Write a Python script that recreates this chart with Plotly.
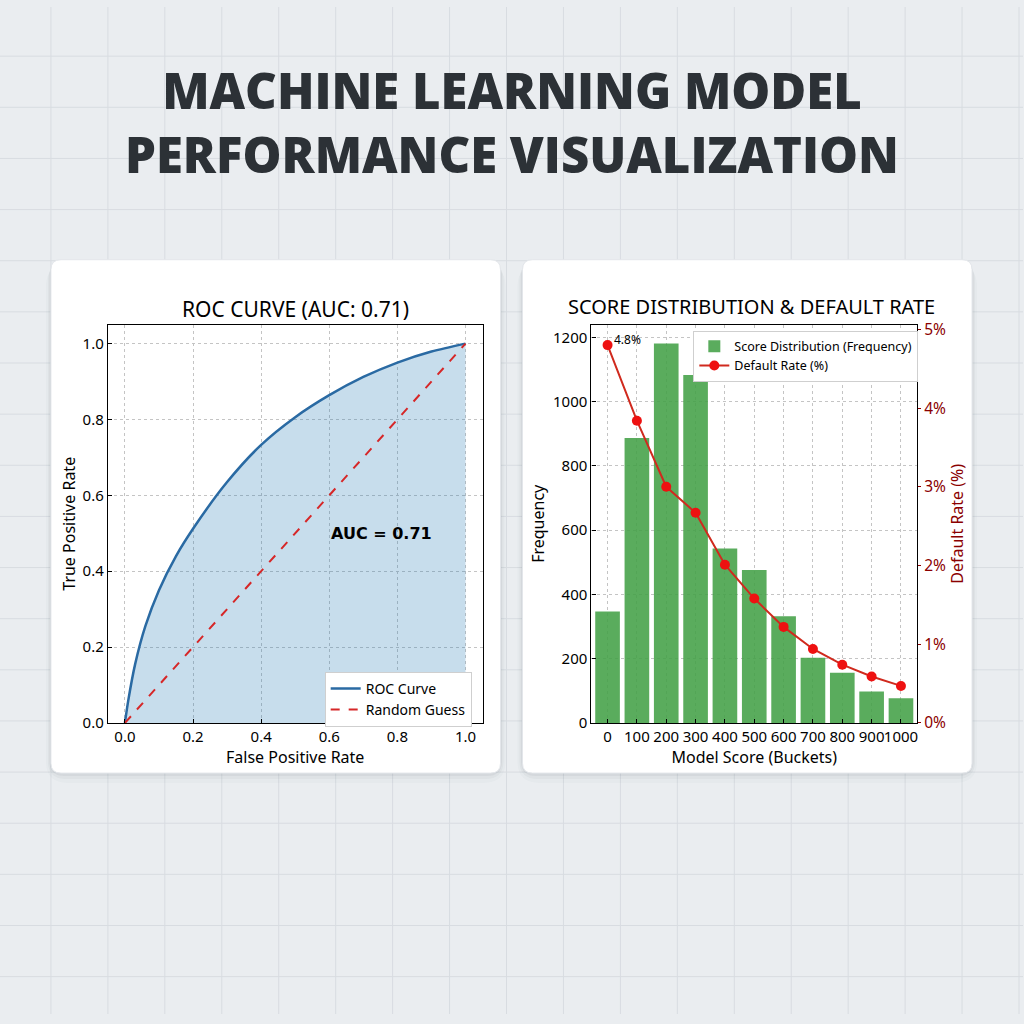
import plotly.graph_objects as go

# ROC curve points
fpr = [0, 0.01, 0.03, 0.06, 0.1, 0.15, 0.2, 0.3, 0.4, 0.5, 0.6, 0.7, 0.8, 0.9, 1.0]
tpr = [0, 0.06, 0.155, 0.255, 0.35, 0.44, 0.512, 0.635, 0.733, 0.806, 0.864, 0.912, 0.95, 0.979, 1.0]
diag = [0, 1]
auc_value = 0.71

# score buckets
buckets = ["0", "100", "200", "300", "400", "500", "600", "700", "800", "900", "1000"]
frequency = [347, 887, 1181, 1083, 543, 476, 332, 203, 156, 98, 77]
default_rate = [4.8, 3.84, 3.0, 2.67, 2.01, 1.58, 1.22, 0.94, 0.74, 0.59, 0.47]

W = H = 1024
FONT = "Noto Sans"


def px_x(v):
    return v / W


def px_y(v):
    return 1 - v / H


def rounded_rect(x0, y0, x1, y1, r):
    # pixel coords (top-left origin) -> paper path
    X0, X1 = px_x(x0), px_x(x1)
    Y0, Y1 = px_y(y0), px_y(y1)
    rx, ry = r / W, r / H
    return (f"M {X0+rx},{Y0} L {X1-rx},{Y0} Q {X1},{Y0} {X1},{Y0-ry} "
            f"L {X1},{Y1+ry} Q {X1},{Y1} {X1-rx},{Y1} L {X0+rx},{Y1} "
            f"Q {X0},{Y1} {X0},{Y1+ry} L {X0},{Y0-ry} Q {X0},{Y0} {X0+rx},{Y0} Z")


fig = go.Figure()

# --- ROC panel ---
fig.add_trace(go.Scatter(x=fpr, y=tpr, mode="lines", line=dict(width=0, shape="spline", smoothing=0.8),
                         fill="tozeroy", fillcolor="rgba(31,119,180,0.25)",
                         showlegend=False, hoverinfo="skip", xaxis="x", yaxis="y"))
fig.add_trace(go.Scatter(x=fpr, y=tpr, mode="lines", name="ROC Curve",
                         line=dict(color="#2a6aa3", width=2.5, shape="spline", smoothing=0.8),
                         xaxis="x", yaxis="y", legend="legend"))
fig.add_trace(go.Scatter(x=diag, y=diag, mode="lines", name="Random Guess",
                         line=dict(color="#d62728", width=2, dash="dash"),
                         xaxis="x", yaxis="y", legend="legend"))

# --- score distribution panel ---
fig.add_trace(go.Bar(x=buckets, y=frequency, name="Score Distribution (Frequency)",
                     marker=dict(color="rgba(67,160,71,0.88)", line=dict(width=0)),
                     xaxis="x2", yaxis="y2", legend="legend2"))
fig.add_trace(go.Scatter(x=buckets, y=default_rate, mode="lines+markers", name="Default Rate (%)",
                         line=dict(color="#d02a1e", width=2),
                         marker=dict(color="#ee1111", size=10),
                         xaxis="x2", yaxis="y3", legend="legend2"))

axis_common = dict(showline=True, linecolor="black", linewidth=1.2, mirror=True,
                   ticks="inside", ticklen=4, tickcolor="black",
                   showgrid=True, gridcolor="#c4c4c4", griddash="dot", gridwidth=1,
                   zeroline=False, tickfont=dict(family=FONT, size=15, color="black"),
                   title_font=dict(family=FONT, size=16, color="black"))

# background grid + cards
shapes = []
x = 51
while x < W:
    shapes.append(dict(type="line", xref="paper", yref="paper", x0=px_x(x), x1=px_x(x),
                       y0=0, y1=1, line=dict(color="#d8dce1", width=1), layer="below"))
    x += 57
y = 50
while y < H:
    shapes.append(dict(type="line", xref="paper", yref="paper", x0=0, x1=1,
                       y0=px_y(y), y1=px_y(y), line=dict(color="#d8dce1", width=1), layer="below"))
    y += 52

for cx0, cx1 in [(51, 501), (523, 973)]:
    for off, a in [(10, 0.025), (6, 0.04), (3, 0.06)]:
        shapes.append(dict(type="path", xref="paper", yref="paper",
                           path=rounded_rect(cx0 - off / 2, 257 + off / 2, cx1 + off / 2, 779 + off, 12 + off),
                           fillcolor=f"rgba(60,70,80,{a})", line=dict(width=0), layer="below"))
    shapes.append(dict(type="path", xref="paper", yref="paper",
                       path=rounded_rect(cx0, 257, cx1, 779, 10),
                       fillcolor="white", line=dict(color="#e3e6ea", width=1), layer="below"))

annotations = [
    dict(text="MACHINE LEARNING MODEL<br>PERFORMANCE VISUALIZATION", xref="paper", yref="paper",
         x=px_x(512), y=px_y(117), xanchor="center", yanchor="middle", showarrow=False,
         font=dict(family="Open Sans", size=49, color="#2c3136", weight=800)),
    dict(text="ROC CURVE (AUC: 0.71)", xref="paper", yref="paper", x=px_x(296), y=px_y(307),
         xanchor="center", yanchor="middle", showarrow=False,
         font=dict(family=FONT, size=21, color="black")),
    dict(text="SCORE DISTRIBUTION & DEFAULT RATE", xref="paper", yref="paper", x=px_x(752), y=px_y(305),
         xanchor="center", yanchor="middle", showarrow=False,
         font=dict(family=FONT, size=20, color="black")),
    dict(text=f"<b>AUC = {auc_value:.2f}</b>", xref="x", yref="y", x=0.6, y=0.5,
         xanchor="left", yanchor="middle", showarrow=False,
         font=dict(family="DejaVu Sans", size=16, color="black")),
    dict(text=f"{default_rate[0]:.1f}%", xref="x2", yref="y3", x=buckets[0], y=default_rate[0],
         xanchor="left", yanchor="middle", xshift=4, yshift=6, showarrow=False,
         font=dict(family=FONT, size=12, color="black")),
    dict(text=f"{default_rate[-1]:.1f}%", xref="x2", yref="y3", x=buckets[-1], y=default_rate[-1],
         xanchor="center", yanchor="middle", yshift=15, showarrow=False,
         font=dict(family=FONT, size=12, color="black")),
]

fig.update_layout(
    width=W, height=H,
    margin=dict(l=0, r=0, t=0, b=0),
    paper_bgcolor="#eaedf0",
    plot_bgcolor="white",
    bargap=0.16,
    shapes=shapes,
    annotations=annotations,
    xaxis=dict(axis_common, domain=[px_x(108), px_x(483)], range=[-0.05, 1.05], dtick=0.2,
               tickformat=".1f", title=dict(text="False Positive Rate", standoff=4), anchor="y"),
    yaxis=dict(axis_common, domain=[px_y(728), px_y(323)], range=[0, 1.05], dtick=0.2,
               tickformat=".1f", title=dict(text="True Positive Rate", standoff=2), anchor="x"),
    xaxis2=dict(axis_common, domain=[px_x(592), px_x(918)], range=[-0.55, 10.55], tickangle=0,
                title=dict(text="Model Score (Buckets)", standoff=4), anchor="y2", type="category"),
    yaxis2=dict(axis_common, domain=[px_y(728), px_y(323)], range=[0, 1240], dtick=200,
                title=dict(text="Frequency", standoff=4), anchor="x2"),
    yaxis3=dict(overlaying="y2", side="right", anchor="x2", range=[0, 5.06], dtick=1,
                ticksuffix="%", showgrid=False, zeroline=False, showline=False,
                ticks="outside", ticklen=3, tickcolor="#8b0000",
                tickfont=dict(family=FONT, size=15.5, color="#8b0000"),
                title=dict(text="Default Rate (%)", font=dict(family=FONT, size=16, color="#8b0000"),
                           standoff=6)),
    legend=dict(x=px_x(325), y=px_y(676), xanchor="left", yanchor="top",
                bgcolor="white", bordercolor="#cfcfcf", borderwidth=1,
                font=dict(family=FONT, size=14, color="black"), tracegroupgap=0,
                itemwidth=30),
    legend2=dict(x=px_x(694), y=px_y(329), xanchor="left", yanchor="top",
                 bgcolor="white", bordercolor="#cfcfcf", borderwidth=1,
                 font=dict(family=FONT, size=12.5, color="black"), tracegroupgap=0,
                 itemwidth=30),
)

fig.write_html("out.html", config={"displayModeBar": False},
               post_script="document.body.style.margin='0';")
